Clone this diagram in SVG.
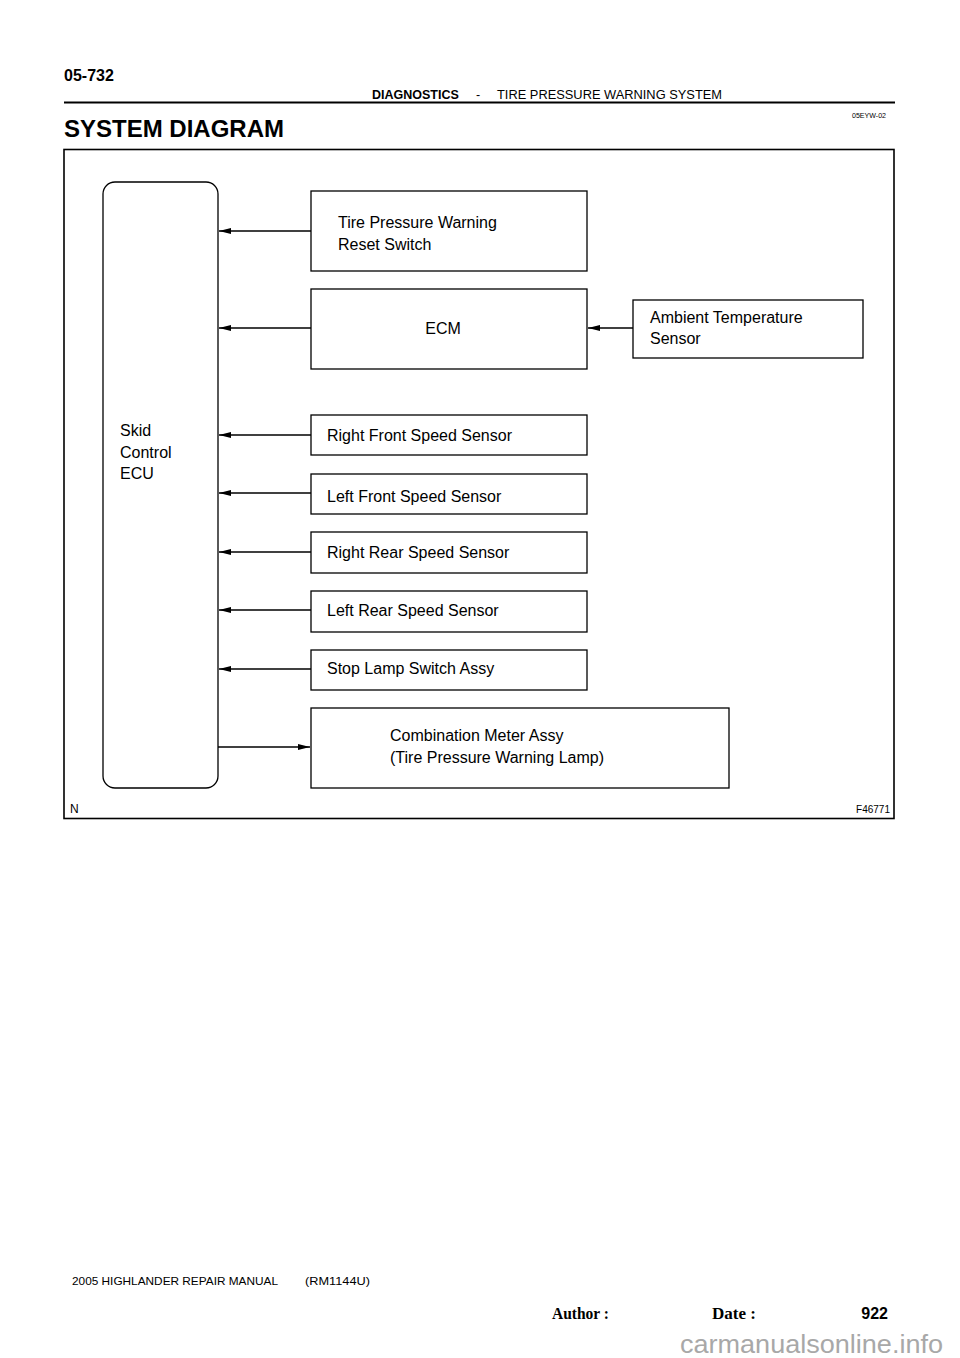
<svg xmlns="http://www.w3.org/2000/svg" width="960" height="1358" viewBox="0 0 960 1358">
<defs>
<style>
.t{font-family:"Liberation Sans",Arial,sans-serif;font-size:16px;fill:#000}
.b{fill:#fff;stroke:#000;stroke-width:1.3}
.c{stroke:#000;stroke-width:1.3;fill:none}
</style>
<marker id="ah" markerWidth="12" markerHeight="6" refX="12" refY="3" orient="auto" markerUnits="userSpaceOnUse">
<path d="M0,0 L12,3 L0,6 Z" fill="#000"/>
</marker>
</defs>
<rect width="960" height="1358" fill="#fff"/>
<g id="header">
<text x="64" y="81" style="font-family:'Liberation Sans',Arial,sans-serif;font-size:16px;font-weight:bold">05-732</text>
<text x="372" y="99" style="font-family:'Liberation Sans',Arial,sans-serif;font-size:12.5px;font-weight:bold">DIAGNOSTICS</text>
<text x="476" y="99" style="font-family:'Liberation Sans',Arial,sans-serif;font-size:12.5px">-</text>
<text x="497" y="99" textLength="225" lengthAdjust="spacingAndGlyphs" style="font-family:'Liberation Sans',Arial,sans-serif;font-size:12.5px">TIRE PRESSURE WARNING SYSTEM</text>
<line x1="64" y1="102.5" x2="895" y2="102.5" stroke="#000" stroke-width="2"/>
<text x="852" y="118" textLength="34" lengthAdjust="spacingAndGlyphs" style="font-family:'Liberation Sans',Arial,sans-serif;font-size:7.5px">05EYW-02</text>
<text x="64" y="137" style="font-family:'Liberation Sans',Arial,sans-serif;font-size:24px;font-weight:bold">SYSTEM DIAGRAM</text>
</g>
<rect id="frame" x="64" y="149.5" width="830" height="669" fill="none" stroke="#000" stroke-width="1.6"/>
<g id="skid-ecu">
<rect class="b" x="103" y="182" width="115" height="606" rx="12"/>
<text class="t" x="120" y="436">Skid</text>
<text class="t" x="120" y="458">Control</text>
<text class="t" x="120" y="479">ECU</text>
</g>
<g id="reset-switch">
<rect class="b" x="311" y="191" width="276" height="80"/>
<text class="t" x="338" y="228">Tire Pressure Warning</text>
<text class="t" x="338" y="250">Reset Switch</text>
</g>
<g id="ecm">
<rect class="b" x="311" y="289" width="276" height="80"/>
<text class="t" x="443" y="334" text-anchor="middle">ECM</text>
</g>
<g id="ambient-sensor">
<rect class="b" x="633" y="300" width="230" height="58"/>
<text class="t" x="650" y="323">Ambient Temperature</text>
<text class="t" x="650" y="344">Sensor</text>
</g>
<g id="rf-sensor">
<rect class="b" x="311" y="415" width="276" height="40"/>
<text class="t" x="327" y="441">Right Front Speed Sensor</text>
</g>
<g id="lf-sensor">
<rect class="b" x="311" y="474" width="276" height="40"/>
<text class="t" x="327" y="502">Left Front Speed Sensor</text>
</g>
<g id="rr-sensor">
<rect class="b" x="311" y="532" width="276" height="41"/>
<text class="t" x="327" y="558">Right Rear Speed Sensor</text>
</g>
<g id="lr-sensor">
<rect class="b" x="311" y="591" width="276" height="41"/>
<text class="t" x="327" y="616">Left Rear Speed Sensor</text>
</g>
<g id="stop-lamp">
<rect class="b" x="311" y="650" width="276" height="40"/>
<text class="t" x="327" y="674">Stop Lamp Switch Assy</text>
</g>
<g id="combination-meter">
<rect class="b" x="311" y="708" width="418" height="80"/>
<text class="t" x="390" y="741">Combination Meter Assy</text>
<text class="t" x="390" y="763">(Tire Pressure Warning Lamp)</text>
</g>
<g id="connectors">
<line class="c" x1="311" y1="231" x2="219" y2="231" marker-end="url(#ah)"/>
<line class="c" x1="311" y1="328" x2="219" y2="328" marker-end="url(#ah)"/>
<line class="c" x1="633" y1="328" x2="588" y2="328" marker-end="url(#ah)"/>
<line class="c" x1="311" y1="435" x2="219" y2="435" marker-end="url(#ah)"/>
<line class="c" x1="311" y1="493" x2="219" y2="493" marker-end="url(#ah)"/>
<line class="c" x1="311" y1="552" x2="219" y2="552" marker-end="url(#ah)"/>
<line class="c" x1="311" y1="610" x2="219" y2="610" marker-end="url(#ah)"/>
<line class="c" x1="311" y1="669" x2="219" y2="669" marker-end="url(#ah)"/>
<line class="c" x1="218" y1="747" x2="310" y2="747" marker-end="url(#ah)"/>
</g>
<g id="labels">
<text x="70" y="813" style="font-family:'Liberation Sans',Arial,sans-serif;font-size:12px">N</text>
<text x="890" y="813" text-anchor="end" style="font-family:'Liberation Sans',Arial,sans-serif;font-size:10px">F46771</text>
</g>
<g id="footer">
<text x="72" y="1285" textLength="206" lengthAdjust="spacingAndGlyphs" style="font-family:'Liberation Sans',Arial,sans-serif;font-size:11.5px">2005 HIGHLANDER REPAIR MANUAL</text>
<text x="305" y="1285" textLength="65" lengthAdjust="spacingAndGlyphs" style="font-family:'Liberation Sans',Arial,sans-serif;font-size:11.5px">(RM1144U)</text>
<text x="552" y="1319" textLength="57" lengthAdjust="spacingAndGlyphs" style="font-family:'Liberation Serif','Times New Roman',serif;font-size:16.5px;font-weight:bold">Author :</text>
<text x="712" y="1319" textLength="44" lengthAdjust="spacingAndGlyphs" style="font-family:'Liberation Serif','Times New Roman',serif;font-size:16.5px;font-weight:bold">Date :</text>
<text x="888" y="1319" text-anchor="end" style="font-family:'Liberation Sans',Arial,sans-serif;font-size:16px;font-weight:bold">922</text>
<text x="680" y="1353" textLength="263" lengthAdjust="spacingAndGlyphs" style="font-family:'Liberation Sans',Arial,sans-serif;font-size:26px;fill:#a8a8a8">carmanualsonline.info</text>
</g>
</svg>
